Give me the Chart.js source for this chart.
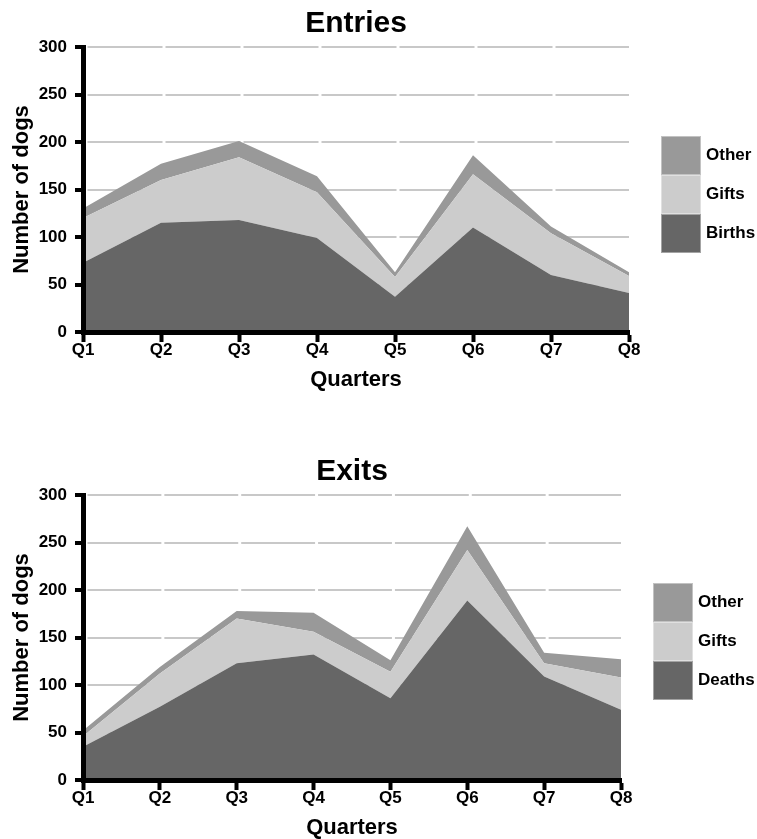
<!DOCTYPE html>
<html>
<head>
<meta charset="utf-8">
<script src="https://cdn.jsdelivr.net/npm/chart.js@4.4.0/dist/chart.umd.min.js"></script>
<style>
  html, body { margin: 0; padding: 0; background: #fff; overflow: hidden; }
  #wrap { position: relative; width: 757px; height: 839px; }
  canvas { position: absolute; left: 0; }
  #entries-chart { top: 0; }
  #exits-chart { top: 448px; }
</style>
</head>
<body>
<div id="wrap">
  <canvas id="entries-chart" width="757" height="391"></canvas>
  <canvas id="exits-chart" width="757" height="391"></canvas>
</div>
<script>
const quarters = ["Q1", "Q2", "Q3", "Q4", "Q5", "Q6", "Q7", "Q8"];

const entriesBirths = [73, 115, 118, 99, 37, 110, 60, 41];
const entriesGifts = [47, 45, 66, 48, 21, 56, 44, 18];
const entriesOther = [10, 17, 17, 17, 5, 20, 7, 4];

const exitsDeaths = [35, 77, 123, 132, 86, 189, 109, 74];
const exitsGifts = [11, 35, 47, 24, 28, 53, 14, 34];
const exitsOther = [6, 7, 8, 20, 12, 25, 11, 19];

const yTicks = [0, 50, 100, 150, 200, 250, 300];

const fills = ["#666666", "#cccccc", "#999999"];
const FAMILY = "'Liberation Sans', Arial, sans-serif";

// column of touching boxes, top series first
const boxLegend = {
  id: "boxLegend",
  afterDraw(chart, args, opts) {
    const ctx = chart.ctx;
    const items = chart.data.datasets.slice().reverse();
    ctx.save();
    ctx.font = `bold 17px ${FAMILY}`;
    ctx.textBaseline = "middle";
    items.forEach((ds, i) => {
      const y = opts.y + i * opts.h;
      ctx.fillStyle = ds.backgroundColor;
      ctx.fillRect(opts.x, y, opts.w, opts.h);
      ctx.strokeStyle = "rgba(255,255,255,0.4)";
      ctx.lineWidth = 1;
      ctx.strokeRect(opts.x + 0.5, y + 0.5, opts.w - 1, opts.h - 1);
      ctx.fillStyle = "#000";
      ctx.fillText(ds.label, opts.x + opts.w + 5, y + opts.h / 2);
    });
    ctx.restore();
  },
};

function areaChart(id, title, names, series, plotRight, legendAt) {
  // spacing between quarters, used to break the grid lines at each tick
  const sp = (plotRight - 83) / (quarters.length - 1);
  return new Chart(document.getElementById(id), {
    type: "line",
    data: {
      labels: quarters,
      datasets: series.map((values, i) => ({
        label: names[i],
        data: values,
        backgroundColor: fills[i],
        borderColor: "rgba(0,0,0,0)",
        borderWidth: 0,
        pointRadius: 0,
        tension: 0,
        fill: i === 0 ? "origin" : "-1",
      })),
    },
    options: {
      responsive: false,
      animation: false,
      layout: { padding: { left: 0, right: 757 - plotRight, top: 0, bottom: 0 } },
      plugins: {
        legend: { display: false },
        tooltip: { enabled: false },
        title: {
          display: true,
          text: title,
          fullSize: false,
          color: "#000",
          font: { family: FAMILY, size: 30, weight: "bold", lineHeight: 1.2 },
          padding: { top: 6, bottom: 5 },
        },
        boxLegend: legendAt,
      },
      scales: {
        x: {
          grid: {
            drawOnChartArea: false,
            drawTicks: true,
            tickLength: 10,
            tickWidth: 4,
            tickColor: "#000",
          },
          border: { color: "#000", width: 5, z: 1 },
          ticks: {
            color: "#000",
            padding: 0,
            font: { family: FAMILY, size: 17, weight: "bold", lineHeight: 1 },
          },
          title: {
            display: true,
            text: "Quarters",
            color: "#000",
            font: { family: FAMILY, size: 22, weight: "bold", lineHeight: 1 },
            padding: { top: 0, bottom: 0 },
          },
          afterFit: (s) => { s.height = 59; },
        },
        y: {
          stacked: true,
          min: yTicks[0],
          max: yTicks[yTicks.length - 1],
          afterBuildTicks: (s) => { s.ticks = yTicks.map((v) => ({ value: v })); },
          ticks: {
            color: "#000",
            padding: 8,
            font: { family: FAMILY, size: 17, weight: "bold" },
          },
          grid: {
            color: "#c8c8c8",
            lineWidth: 2,
            tickColor: "#000",
            tickWidth: 4,
            tickLength: 8,
          },
          border: { color: "#000", width: 5, z: 1, dash: [sp - 3, 3], dashOffset: sp - 1.5 },
          title: {
            display: true,
            text: "Number of dogs",
            color: "#000",
            font: { family: FAMILY, size: 22, weight: "bold", lineHeight: 1 },
            padding: { top: 11, bottom: 0 },
          },
          afterFit: (s) => { s.width = 83; },
        },
      },
    },
    plugins: [boxLegend],
  });
}

areaChart("entries-chart", "Entries", ["Births", "Gifts", "Other"],
  [entriesBirths, entriesGifts, entriesOther], 629, { x: 661, y: 136, w: 40, h: 39 });

areaChart("exits-chart", "Exits", ["Deaths", "Gifts", "Other"],
  [exitsDeaths, exitsGifts, exitsOther], 621, { x: 653, y: 135, w: 40, h: 39 });
</script>
</body>
</html>
